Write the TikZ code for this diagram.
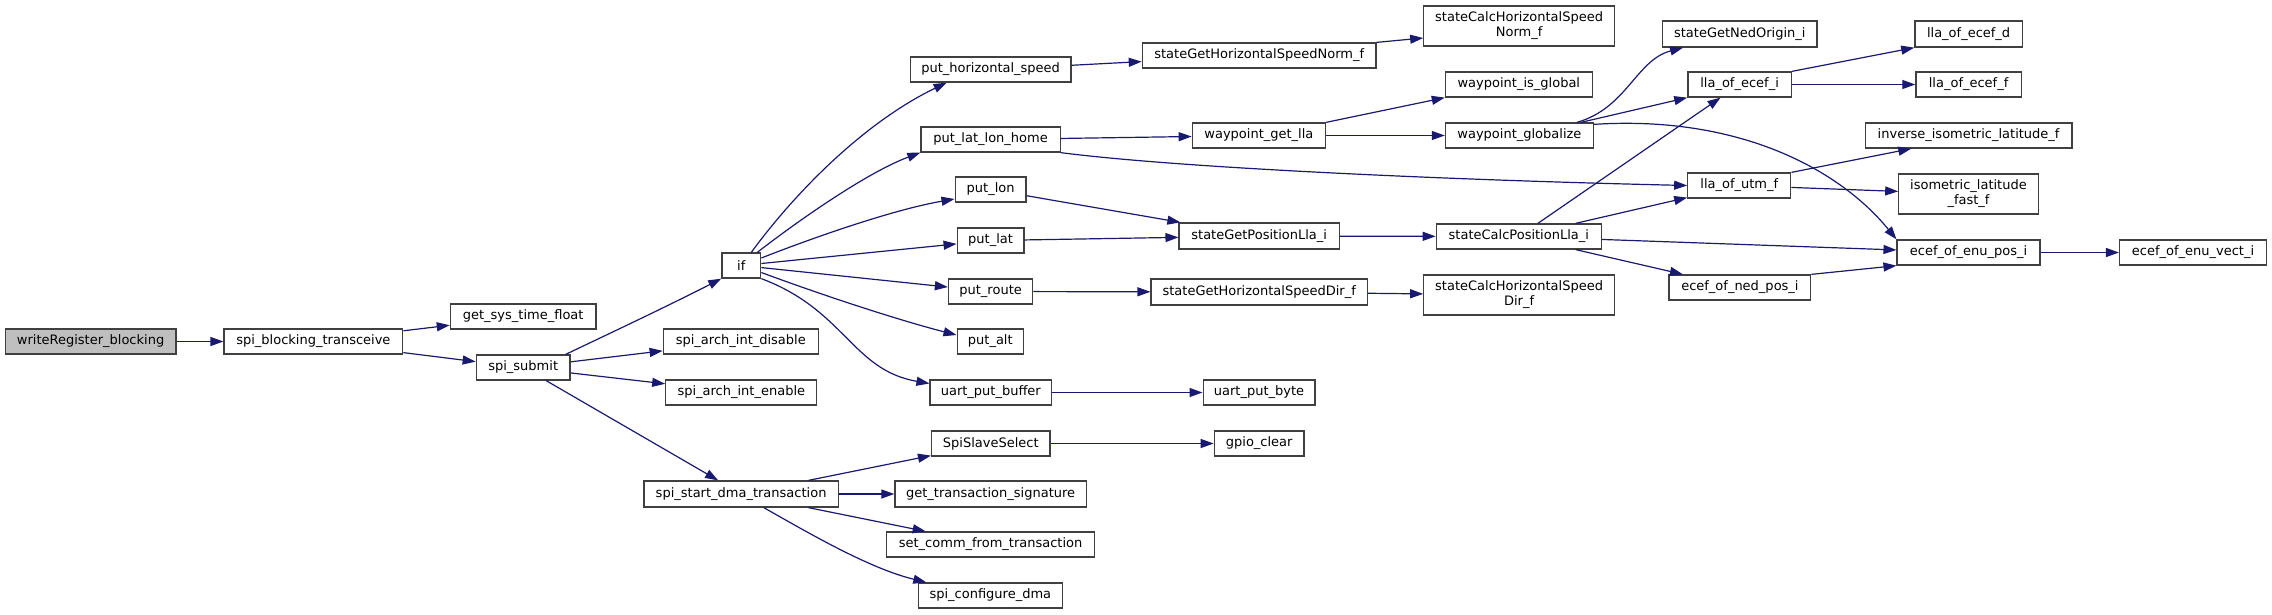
\documentclass[tikz,border=0pt]{standalone}
\usepackage{fontspec}
\setmainfont{DejaVu Sans}
\usetikzlibrary{arrows.meta}
\definecolor{edgeblue}{RGB}{25,25,112}
\definecolor{boxborder}{RGB}{64,64,64}
\begin{document}
\begin{tikzpicture}[x=1pt,y=-1pt,
  box/.style={draw=boxborder, line width=1.3pt, fill=white, inner sep=0pt, minimum height=25pt, align=center, font=\fontsize{13}{15}\selectfont},
  rootbox/.style={box, fill=black!25},
  edge/.style={draw=edgeblue, line width=1.2pt, -{Triangle[length=13pt,width=9pt]}}]
\useasboundingbox (0,0) rectangle (2272,614);
% nodes
\node[rootbox, minimum width=170.5pt] (root) at (90.6,341.5) {writeRegister\_blocking};
\node[box, minimum width=178.6pt] (sbt) at (313.4,341.5) {spi\_blocking\_transceive};
\node[box, minimum width=145.6pt] (gst) at (523.2,316.5) {get\_sys\_time\_float};
\node[box, minimum width=93.8pt] (ss) at (523.2,367.5) {spi\_submit};
\node[box, minimum width=38.8pt] (if) at (741.3,265.5) {if};
\node[box, minimum width=155.1pt] (sad) at (740.8,341.5) {spi\_arch\_int\_disable};
\node[box, minimum width=151pt] (sae) at (741.3,392.5) {spi\_arch\_int\_enable};
\node[box, minimum width=194.4pt, minimum height=26pt] (sdma) at (741.1,494) {spi\_start\_dma\_transaction};
\node[box, minimum width=160.7pt] (phs) at (990.6,69.5) {put\_horizontal\_speed};
\node[box, minimum width=139.3pt] (pllh) at (990.6,139.5) {put\_lat\_lon\_home};
\node[box, minimum width=70.9pt] (plon) at (990.6,189.5) {put\_lon};
\node[box, minimum width=66.8pt] (plat) at (990.6,240.5) {put\_lat};
\node[box, minimum width=84.2pt] (proute) at (990.6,291.5) {put\_route};
\node[box, minimum width=66.3pt] (palt) at (990.3,341.5) {put\_alt};
\node[box, minimum width=121.4pt] (upb) at (990.8,392.5) {uart\_put\_buffer};
\node[box, minimum width=118.4pt] (sss) at (990.8,443.5) {SpiSlaveSelect};
\node[box, minimum width=191.3pt, minimum height=26pt] (gts) at (990.6,494) {get\_transaction\_signature};
\node[box, minimum width=207.7pt] (scft) at (990.6,544.5) {set\_comm\_from\_transaction};
\node[box, minimum width=143.9pt] (scd) at (990.3,595.5) {spi\_configure\_dma};
\node[box, minimum width=89.8pt] (gpio) at (1259.2,443.5) {gpio\_clear};
\node[box, minimum width=111.7pt] (upbyte) at (1259,392.5) {uart\_put\_byte};
\node[box, minimum width=233.7pt] (sghsn) at (1259.2,55.5) {stateGetHorizontalSpeedNorm\_f};
\node[box, minimum width=133.2pt] (wgl) at (1258.9,135.5) {waypoint\_get\_lla};
\node[box, minimum width=160.2pt, minimum height=26pt] (sgpl) at (1259.2,236) {stateGetPositionLla\_i};
\node[box, minimum width=216.3pt, minimum height=26pt] (sghsd) at (1259.2,292) {stateGetHorizontalSpeedDir\_f};
\node[box, minimum width=190.6pt, minimum height=40pt] (schsn) at (1519.1,26) {stateCalcHorizontalSpeed\\Norm\_f};
\node[box, minimum width=146.8pt] (wig) at (1518.8,84.5) {waypoint\_is\_global};
\node[box, minimum width=147.9pt] (wg) at (1519.4,135.5) {waypoint\_globalize};
\node[box, minimum width=165pt] (scpl) at (1518.8,236.5) {stateCalcPositionLla\_i};
\node[box, minimum width=190.6pt, minimum height=40pt] (schsd) at (1519.1,295) {stateCalcHorizontalSpeed\\Dir\_f};
\node[box, minimum width=154.2pt, minimum height=26pt] (sgno) at (1739.8,34) {stateGetNedOrigin\_i};
\node[box, minimum width=103.5pt] (lei) at (1739.6,84.5) {lla\_of\_ecef\_i};
\node[box, minimum width=103pt] (luf) at (1739.3,185.5) {lla\_of\_utm\_f};
\node[box, minimum width=141.7pt] (enp) at (1739.9,287.5) {ecef\_of\_ned\_pos\_i};
\node[box, minimum width=107.5pt, minimum height=26pt] (led) at (1968.6,34) {lla\_of\_ecef\_d};
\node[box, minimum width=105.3pt] (lef) at (1968.6,84.5) {lla\_of\_ecef\_f};
\node[box, minimum width=206.5pt] (iilf) at (1968.6,135.5) {inverse\_isometric\_latitude\_f};
\node[box, minimum width=139.4pt, minimum height=40pt] (ilff) at (1968.5,194) {isometric\_latitude\\\_fast\_f};
\node[box, minimum width=142.8pt] (eepi) at (1968.5,252.5) {ecef\_of\_enu\_pos\_i};
\node[box, minimum width=146.8pt] (eevi) at (2193,252.5) {ecef\_of\_enu\_vect\_i};
% edges
\draw[edge] (root) -- (sbt);
\draw[edge] (sbt) -- (gst);
\draw[edge] (sbt) -- (ss);
\draw[edge] ([xshift=-5pt]ss.north east) .. controls (585,345) and (660,310) .. (if.south west);
\draw[edge] (ss) -- (sad);
\draw[edge] (ss) -- (sae);
\draw[edge] ([xshift=23pt]ss.south) -- ([xshift=-23pt]sdma.north);
\draw[edge] ([xshift=10pt]if.north) .. controls (794,194) and (863,123) .. ([xshift=37pt]phs.south west);
\draw[edge] ([xshift=16pt]if.north) .. controls (799,220) and (868,172) .. (pllh.south west);
\draw[edge] ([yshift=7.5pt]if.east) .. controls (807,240) and (891,210) .. ([yshift=-9.5pt]plon.west);
\draw[edge] (if) -- (plat);
\draw[edge] (if) -- (proute);
\draw[edge] ([yshift=-7pt]if.east) .. controls (822,295) and (898,320) .. ([yshift=6.5pt]palt.west);
\draw[edge] (if.south east) .. controls (845,310) and (852,370) .. ([yshift=9pt]upb.west);
\draw[edge] (phs) -- (sghsn);
\draw[edge] (pllh) -- (wgl);
\draw[edge] (pllh.south east) .. controls (1180,168) and (1450,180) .. (luf.west);
\draw[edge] (plon) -- (sgpl);
\draw[edge] (plat) -- (sgpl);
\draw[edge] (proute) -- (sghsd);
\draw[edge] (sghsn.north east) -- ([yshift=-12pt]schsn.west);
\draw[edge] (wgl.north east) -- (wig.south west);
\draw[edge] (wgl) -- (wg);
\draw[edge] (sgpl) -- (scpl);
\draw[edge] (sghsd) -- (schsd);
\draw[edge] ([xshift=-17pt]wg.north east) .. controls (1627,108) and (1636,60) .. ([xshift=21pt]sgno.south west);
\draw[edge] ([xshift=-13pt]wg.north east) -- (lei.south west);
\draw[edge] ([yshift=-2pt]wg.north east) .. controls (1740,115) and (1840,170) .. (eepi.north west);
\draw[edge] (scpl) -- (lei);
\draw[edge] (scpl) -- (luf);
\draw[edge] (scpl) -- (eepi);
\draw[edge] (scpl) -- (enp);
\draw[edge] (lei.north east) -- (led.south west);
\draw[edge] (lei) -- (lef);
\draw[edge] (luf.north east) -- ([xshift=46.6pt]iilf.south west);
\draw[edge] (luf) -- (ilff);
\draw[edge] (enp.north east) -- (eepi.south west);
\draw[edge] (eepi) -- (eevi);
\draw[edge] (sdma) -- (sss);
\draw[edge] (sdma) -- (gts);
\draw[edge] (sdma) -- (scft);
\draw[edge] ([xshift=22.7pt]sdma.south) .. controls (807,532) and (868,568) .. ([xshift=-64pt]scd.north);
\draw[edge] (sss) -- (gpio);
\draw[edge] (upb) -- (upbyte);
\end{tikzpicture}
\end{document}
